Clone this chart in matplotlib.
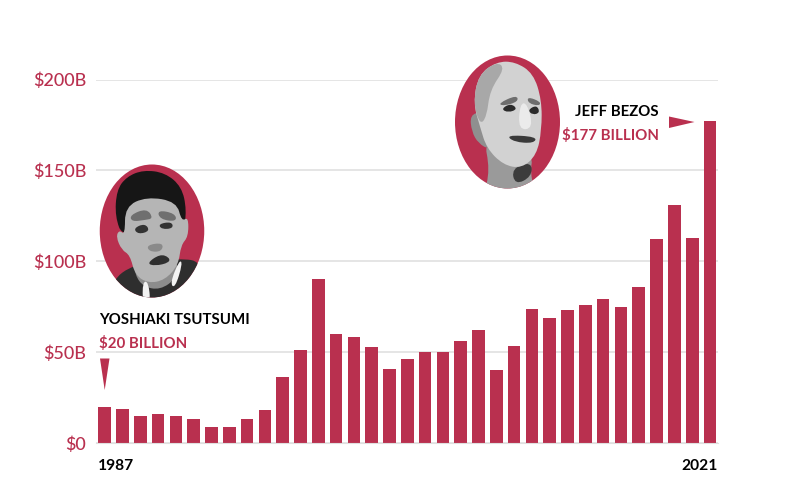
import matplotlib.pyplot as plt
from matplotlib.patches import Ellipse, PathPatch, Polygon
from matplotlib.path import Path

red = "#b9304f"
plt.rcParams["font.family"] = "Lato"


# crop coordinates were read at 3x, so everything goes through here
def shape(points, x0, y0, color, clip):
    pts = [(x0 + p[0] / 3, y0 + p[1] / 3) for p in points]
    mids = [((pts[i][0] + pts[(i + 1) % len(pts)][0]) / 2, (pts[i][1] + pts[(i + 1) % len(pts)][1]) / 2) for i in range(len(pts))]
    verts = [mids[-1]]
    codes = [Path.MOVETO]
    for i in range(len(pts)):
        verts += [pts[i], mids[i]]
        codes += [Path.CURVE3, Path.CURVE3]
    patch = PathPatch(Path(verts, codes), facecolor=color, edgecolor="none")
    plt.gca().add_patch(patch)
    patch.set_clip_path(clip)


def tsutsumi():
    oval = Ellipse((152, 231), 104.5, 133, facecolor=red, edgecolor="none")
    plt.gca().add_patch(oval)
    x0, y0 = 80, 150
    shape([(90, 395), (165, 340), (300, 325), (365, 335), (345, 410), (270, 470), (120, 470)], x0, y0, "#2e2e2e", oval)
    shape([(165, 335), (295, 325), (290, 385), (240, 420), (190, 410), (165, 375)], x0, y0, "#8c8c8c", oval)
    shape([(188, 395), (205, 395), (212, 460), (188, 460)], x0, y0, "#f2f2f2", oval)
    shape([(270, 400), (298, 330), (308, 340), (285, 415)], x0, y0, "#f2f2f2", oval)
    shape([(105, 200), (110, 120), (140, 80), (190, 60), (255, 68), (305, 110), (320, 180), (310, 250), (130, 265)], x0, y0, "#161616", oval)
    shape([(135, 170), (200, 140), (290, 155), (305, 215), (325, 200), (325, 260), (303, 285), (295, 345), (255, 390), (205, 400), (165, 375), (150, 315), (125, 300), (108, 260), (118, 240), (135, 255)], x0, y0, "#b5b5b5", oval)
    shape([(150, 195), (200, 175), (220, 205), (195, 210), (155, 215)], x0, y0, "#6f6f6f", oval)
    shape([(232, 180), (285, 190), (290, 215), (240, 208)], x0, y0, "#6f6f6f", oval)
    shape([(160, 235), (195, 220), (210, 243), (175, 253)], x0, y0, "#333333", oval)
    shape([(235, 222), (275, 215), (280, 235), (245, 238)], x0, y0, "#333333", oval)
    shape([(200, 285), (250, 278), (245, 305), (208, 305)], x0, y0, "#8a8a8a", oval)
    shape([(200, 340), (240, 312), (268, 322), (268, 338), (225, 348)], x0, y0, "#2f2f2f", oval)


def bezos():
    oval = Ellipse((507.5, 122), 105, 133, facecolor=red, edgecolor="none")
    plt.gca().add_patch(oval)
    x0, y0 = 440, 40
    shape([(130, 290), (280, 340), (270, 400), (290, 470), (130, 470), (150, 390)], x0, y0, "#9a9a9a", oval)
    shape([(215, 385), (275, 365), (275, 410), (225, 435)], x0, y0, "#3c3c3c", oval)
    shape([(90, 225), (125, 215), (150, 270), (150, 330), (115, 310), (95, 275)], x0, y0, "#8f8f8f", oval)
    shape([(100, 190), (115, 105), (170, 65), (225, 65), (280, 100), (305, 180), (305, 270), (290, 345), (245, 385), (190, 375), (140, 325), (120, 260)], x0, y0, "#d2d2d2", oval)
    shape([(100, 190), (115, 105), (170, 65), (195, 85), (150, 150), (140, 230), (120, 255)], x0, y0, "#a8a8a8", oval)
    shape([(175, 190), (230, 165), (235, 185), (190, 198)], x0, y0, "#6e6e6e", oval)
    shape([(262, 170), (302, 185), (298, 198), (265, 190)], x0, y0, "#6e6e6e", oval)
    shape([(183, 207), (212, 190), (233, 207), (205, 218)], x0, y0, "#2b2b2b", oval)
    shape([(263, 210), (290, 195), (300, 218), (278, 225)], x0, y0, "#2b2b2b", oval)
    shape([(240, 190), (262, 190), (280, 265), (235, 270)], x0, y0, "#ebebeb", oval)
    shape([(198, 285), (290, 290), (282, 310), (222, 306)], x0, y0, "#3a3a3a", oval)


def main():
    years = list(range(1987, 2022))
    worth = [20, 18.9, 15, 16, 15, 13, 9, 8.6, 13, 18, 36.3, 51, 90, 60, 58.5, 52.7, 40.5, 46, 50, 50,
             56, 62, 40, 53.5, 74, 69, 73, 76, 79, 75, 86, 112, 131, 113, 177]

    plt.figure(figsize=(8, 5), dpi=100)
    plt.axes([96 / 800, 57 / 500, 622 / 800, 363.5 / 500])
    plt.grid(axis="y", color="#e0e0e0", linewidth=1.2)
    plt.gca().set_axisbelow(True)
    plt.bar(years, worth, width=0.71, color=red)
    plt.xlim(1986.51, 2021.45)
    plt.ylim(0, 200)
    plt.yticks([0, 50, 100, 150, 200], ["$0", "$50B", "$100B", "$150B", "$200B"], color=red, fontsize=13, fontweight="medium")
    plt.xticks([])
    plt.tick_params(axis="y", length=0, pad=7)
    for side in ["top", "right", "left"]:
        plt.gca().spines[side].set_visible(False)
    plt.gca().spines["bottom"].set_color("#e0e0e0")

    # overlay in pixels for the portraits and the callouts
    plt.axes([0, 0, 1, 1], facecolor="none")
    plt.xlim(0, 800)
    plt.ylim(500, 0)
    plt.axis("off")
    tsutsumi()
    bezos()
    plt.gca().add_patch(Polygon([(100, 358.5), (109.5, 358.5), (104.7, 390)], facecolor=red, edgecolor="none"))
    plt.gca().add_patch(Polygon([(669, 116.5), (669, 128), (694.5, 122), ], facecolor=red, edgecolor="none"))
    plt.text(99, 320, "YOSHIAKI TSUTSUMI", fontsize=10.8, fontweight="bold", color="black", va="center")
    plt.text(99, 343, "$20 BILLION", fontsize=10.8, fontweight="bold", color=red, va="center")
    plt.text(659, 112, "JEFF BEZOS", fontsize=10.8, fontweight="bold", color="black", va="center", ha="right")
    plt.text(659, 135, "$177 BILLION", fontsize=10.8, fontweight="bold", color=red, va="center", ha="right")
    plt.text(98, 466, "1987", fontsize=11.2, fontweight="bold", color="black", va="center")
    plt.text(718, 466, "2021", fontsize=11.2, fontweight="bold", color="black", va="center", ha="right")

    plt.savefig("out.png", dpi=100)


main()
